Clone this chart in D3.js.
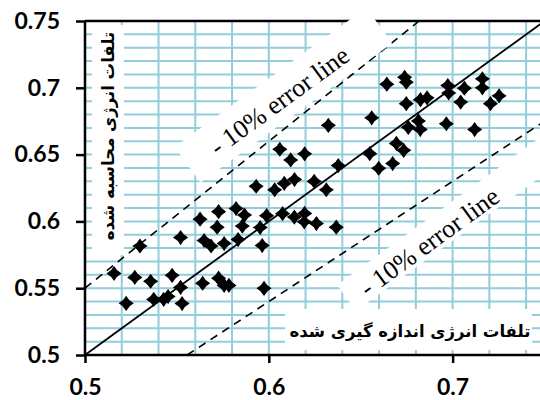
<!DOCTYPE html>
<html><head><meta charset="utf-8">
<script src="https://cdn.jsdelivr.net/npm/d3@7"></script>
<style>html,body{margin:0;padding:0;background:#fff;overflow:hidden}</style>
</head><body>
<svg id="c" width="540" height="400"></svg>
<script>
// measured energy losses (x)
const measured = [0.5931,0.5727,0.5822,0.5868,0.5626,0.5719,0.5856,0.5953,0.5520,0.5648,
0.5686,0.5757,0.5833,0.5964,0.5299,0.5158,0.5271,0.5357,0.5474,0.5520,
0.5640,0.5727,0.5757,0.5783,0.5974,0.5224,0.5374,0.5428,0.5452,0.5528,
0.6060,0.6195,0.6119,0.6549,0.6378,0.6598,0.6674,0.6694,0.6734,
0.6032,0.6084,0.6140,0.6247,0.6313,
0.5988,0.6075,0.6139,0.6195,0.6193,0.6259,0.6367,
0.6560,0.6324,
0.6642,0.6739,0.6748,0.6974,0.6979,0.7064,0.7162,0.7162,0.7253,0.7206,0.7044,0.6748,0.6825,0.6861,
0.6814,0.6759,0.6824,0.6966,0.7120];
// calculated energy losses (y)
const calculated = [0.6263,0.6073,0.6096,0.6047,0.6017,0.5957,0.5965,0.5954,0.5879,0.5857,
0.5816,0.5834,0.5864,0.5819,0.5816,0.5610,0.5581,0.5552,0.5596,0.5506,
0.5537,0.5575,0.5521,0.5521,0.5499,0.5387,0.5416,0.5416,0.5437,0.5385,
0.6540,0.6506,0.6460,0.6507,0.6418,0.6398,0.6433,0.6584,0.6532,
0.6237,0.6284,0.6313,0.6299,0.6237,
0.6043,0.6058,0.6032,0.6060,0.5997,0.5984,0.5957,
0.6775,0.6719,
0.7027,0.7079,0.7042,0.7017,0.6961,0.6997,0.7067,0.7000,0.6940,0.6881,0.6893,0.6881,0.6911,0.6925,
0.6752,0.6704,0.6687,0.6731,0.6687];
const xTickValues = [0.5, 0.6, 0.7];
const xTickLabels = ["0.5", "0.6", "0.7"];
const yTickValues = [0.5, 0.55, 0.6, 0.65, 0.7, 0.75];
const yTickLabels = ["0.5", "0.55", "0.6", "0.65", "0.7", "0.75"];
const errorLines = [1.1, 0.9];
const errorLabel = "- 10% error line";
const xTitle = "تلفات انرژی اندازه گیری شده";
const yTitle = "تلفات انرژی محاسبه شده";

const svg = d3.select("#c");
const x = d3.scaleLinear().domain([0.5, 0.75]).range([85, 544.5]);
const y = d3.scaleLinear().domain([0.5, 0.75]).range([355, 21]);
const gridColor = "#92CDDC";

// grid
const g = svg.append("g");
g.selectAll("line.h").data(d3.range(51, 75).map(v => v / 100)).join("line")
  .attr("x1", x(0.5)).attr("x2", 540).attr("y1", d => y(d)).attr("y2", d => y(d))
  .attr("stroke", gridColor).attr("stroke-width", 2);
g.selectAll("line.v").data(d3.range(52, 76, 2).map(v => v / 100)).join("line")
  .attr("x1", d => x(d)).attr("x2", d => x(d)).attr("y1", y(0.5)).attr("y2", y(0.75))
  .attr("stroke", gridColor).attr("stroke-width", 2);

// axis titles with white boxes
svg.append("rect").attr("x", 92).attr("y", 25).attr("width", 32).attr("height", 230).attr("fill", "#fff");
svg.append("text").attr("transform", "translate(108,136) rotate(-90)")
  .attr("text-anchor", "middle").attr("dominant-baseline", "central")
  .attr("font-family", "DejaVu Sans").attr("font-weight", "bold").attr("font-size", 16.5)
  .attr("direction", "rtl").text(yTitle);
svg.append("rect").attr("x", 285).attr("y", 309).attr("width", 247).attr("height", 41).attr("fill", "#fff");
svg.append("text").attr("x", 410).attr("y", 331)
  .attr("text-anchor", "middle").attr("dominant-baseline", "central")
  .attr("font-family", "DejaVu Sans").attr("font-weight", "bold").attr("font-size", 16.5)
  .attr("direction", "rtl").text(xTitle);

// reference lines
svg.append("line").attr("x1", x(0.5)).attr("y1", y(0.5)).attr("x2", x(0.75)).attr("y2", y(0.75))
  .attr("stroke", "#000").attr("stroke-width", 1.8);
errorLines.forEach(k => {
  const x0 = Math.max(0.5, 0.5 / k), x1 = Math.min(0.75, 0.75 / k);
  svg.append("line").attr("x1", x(x0)).attr("y1", y(k * x0)).attr("x2", x(x1)).attr("y2", y(k * x1))
    .attr("stroke", "#000").attr("stroke-width", 1.6).attr("stroke-dasharray", "8,6");
});

// markers
const r = 7.6, c = 2.6;
const diamond = `M0,${-r}Q${c},${-c} ${r},0Q${c},${c} 0,${r}Q${-c},${c} ${-r},0Q${-c},${-c} 0,${-r}Z`;
svg.append("g").selectAll("path").data(measured.map((m, i) => [m, calculated[i]])).join("path")
  .attr("d", diamond).attr("transform", d => `translate(${x(d[0])},${y(d[1])})`).attr("fill", "#000");

// axes
svg.append("line").attr("x1", x(0.5)).attr("x2", 540).attr("y1", y(0.75)).attr("y2", y(0.75)).attr("stroke", "#000").attr("stroke-width", 2.5);
const ya = svg.append("g").attr("transform", `translate(${x(0.5)},0)`)
  .call(d3.axisLeft(y).tickValues(yTickValues).tickFormat((d, i) => yTickLabels[i]).tickSize(9).tickPadding(16));
const xa = svg.append("g").attr("transform", `translate(0,${y(0.5)})`)
  .call(d3.axisBottom(x).tickValues(xTickValues).tickFormat((d, i) => xTickLabels[i]).tickSize(8).tickPadding(16));
[ya, xa].forEach(a => {
  a.select(".domain").attr("stroke", "#000").attr("stroke-width", 2.5);
  a.selectAll(".tick line").attr("stroke", "#000").attr("stroke-width", 2.5);
  a.selectAll(".tick text").attr("font-family", "Lato").attr("font-weight", "bold").attr("font-size", 23).attr("fill", "#000");
});
xa.select(".domain").attr("d", `M${x(0.5)},0H540`);
ya.select(".domain").attr("d", `M0,${y(0.5)}V${y(0.75)}`);

// error line labels with white boxes
const labels = [{cx: 281, cy: 103, a0: -112, a1: 125, n0: -17, n1: 27},
                {cx: 431, cy: 244, a0: -100, a1: 150, n0: -10, n1: 22}];
labels.forEach(L => {
  const gg = svg.append("g").attr("transform", `translate(${L.cx},${L.cy}) rotate(-36)`);
  gg.append("rect").attr("x", L.a0).attr("y", -L.n1).attr("width", L.a1 - L.a0).attr("height", L.n1 - L.n0).attr("fill", "#fff");
  gg.append("text").attr("x", 0).attr("y", 0).attr("text-anchor", "middle").attr("dominant-baseline", "middle")
    .attr("font-family", "Liberation Serif").attr("font-size", 26).attr("xml:space", "preserve").text(errorLabel);
});
</script>
</body></html>
